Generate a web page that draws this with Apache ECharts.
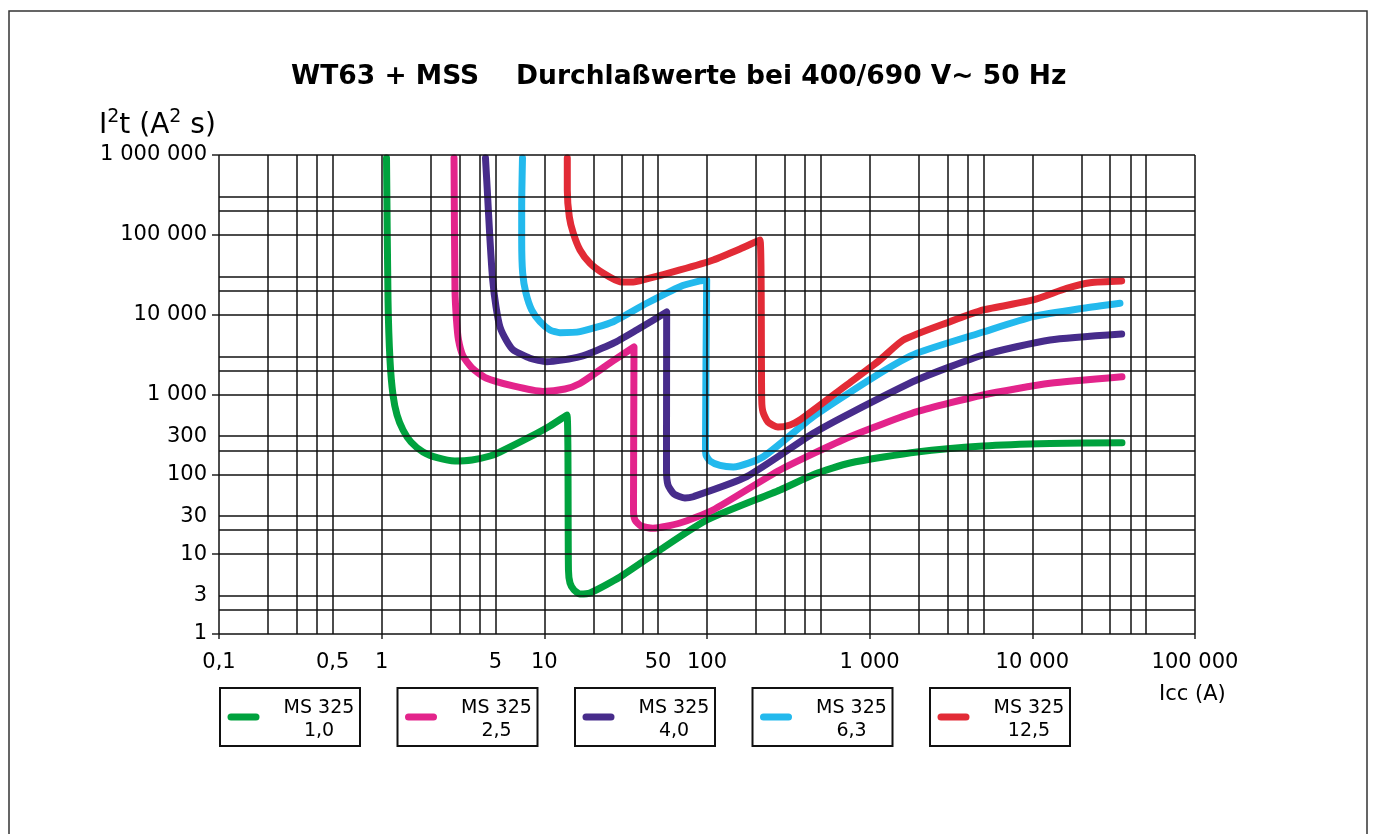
<!DOCTYPE html>
<html>
<head>
<meta charset="utf-8">
<script src="https://cdn.jsdelivr.net/npm/echarts@6/dist/echarts.min.js"></script>
<style>
  html, body { margin: 0; padding: 0; background: #fff; }
  #chart { width: 1375px; height: 834px; }
</style>
</head>
<body>
<div id="chart"></div>
<script>
// I²t let-through curves, [Icc (A), I²t (A² s)]
const ms10 = [[1.071, 918000], [1.094, 15277], [1.125, 2706], [1.174, 986], [1.243, 554], [1.353, 359.4], [1.514, 254.2], [1.795, 190.5], [2.22, 160.2], [2.823, 147], [3.592, 151.2], [4.634, 169.7], [5.339, 190.5], [8.162, 293.7], [10.83, 403.3], [13.78, 554],
  [14.07, 6.335], [14.38, 4.354], [15.22, 3.558], [16.56, 3.171], [19.09, 3.263], [29.19, 5.176], [51.4, 11.28], [100, 26.8], [281, 63.67], [461, 101], [756.8, 138.7], [1954, 190.5], [4972, 226.5], [12840, 243.4], [35570, 249.1]];
const ms25 = [[2.785, 918000], [2.823, 20385], [2.884, 8581], [2.967, 4819], [3.162, 3037], [3.592, 2149], [4.379, 1610], [6.416, 1279], [9.812, 1091], [13.4, 1173], [16.56, 1374], [21.99, 2028], [26.43, 2630], [35.58, 3938],
  [35.33, 35.76], [36.08, 26.8], [39.29, 22.54], [46.55, 21.1], [68.23, 24.58], [108.8, 35.76], [281, 113.4], [756.8, 296.2], [1954, 609.3], [4972, 986], [12840, 1382], [35570, 1672]];
const ms40 = [[4.347, 918000], [4.459, 364700], [4.634, 86240], [4.815, 27200], [5.045, 12590], [5.339, 7013], [5.87, 4681], [6.444, 3612], [8.162, 2843], [10.34, 2577], [16.56, 2977], [26.54, 4381], [36.96, 6430], [56.5, 10806],
  [56.36, 113.4], [57.57, 73.53], [62.67, 56.74], [73.21, 50.54], [82.37, 52.47], [175.4, 93.43], [450.2, 326.7], [756.8, 581.8], [1946, 1520], [4994, 3126], [12840, 4819], [35420, 5729]];
const ms63 = [[7.34, 918000], [7.258, 225300], [7.258, 86240], [7.361, 33000], [7.713, 18530], [8.36, 11450], [9.403, 8170], [10.83, 6430], [12.48, 5948], [16.56, 6122], [26.54, 8170], [42.59, 13890], [68.23, 22420], [90.57, 26430], [99.56, 27200],
  [97.89, 233.2], [98.58, 174.7], [104.3, 147], [120.2, 129.1], [145.1, 123.6], [221.8, 166.4], [450.2, 527.6], [1157, 1845], [1946, 3283], [4994, 6069], [10135, 9438], [20570, 12030], [34580, 13890]];
const ms125 = [[13.84, 918000], [13.84, 364700], [14.24, 168900], [15.07, 104600], [16.56, 64620], [19.09, 44040], [23.04, 33000], [29.19, 25900], [35.23, 25670], [42.59, 28000], [68.23, 36290], [109.3, 48420], [159.5, 66510], [211.7, 86240],
  [216.9, 853.7], [220.9, 603.9], [237.1, 452.6], [273.2, 391.8], [323.7, 415.1], [372.9, 479.6], [722.3, 1316], [1157, 2706], [1609, 4819], [3118, 8170], [4994, 11450], [10135, 15277], [16260, 21410], [22620, 25160], [35420, 26430]];

const curveNames = ['1,0', '2,5', '4,0', '6,3', '12,5'];
const curveData = [ms10, ms25, ms40, ms63, ms125];
const curveColors = ['#00a23e', '#e3248b', '#472c8b', '#23b9ed', '#e22b36'];

// axis labels / ticks
const xLabelValues = [0.1, 0.5, 1, 5, 10, 50, 100, 1000, 10000, 100000];
const xTickValues = [0.1, 1, 10, 100, 1000, 10000, 100000];
const yLabelValues = [1, 3, 10, 30, 100, 300, 1000, 10000, 100000, 1000000];
const yTickValues = [1, 10, 100, 1000, 10000, 100000, 1000000];

// grid lines: per decade
const xDecades = [0.1, 1, 10, 100, 1000, 10000];
const xSteps = [1, 2, 3, 4, 5];
const yDecades = [1, 10, 100, 1000, 10000, 100000];
const ySteps = [1, 2, 3];

const FONT = 'DejaVu Sans';

const fmt = (v) => {
  if (v < 1) return String(+v.toPrecision(6)).replace('.', ',');
  return String(Math.round(v)).replace(/\B(?=(\d{3})+(?!\d))/g, ' ');
};

const gridLines = [];
xDecades.forEach((d) => xSteps.forEach((s) => gridLines.push({ xAxis: +(d * s).toPrecision(6) })));
gridLines.push({ xAxis: 100000 });
yDecades.forEach((d) => ySteps.forEach((s) => gridLines.push({ yAxis: d * s })));
gridLines.push({ yAxis: 1000000 });

const chart = echarts.init(document.getElementById('chart'));

const legendBoxes = curveNames.map((name, i) => ({
  type: 'group',
  left: 219 + i * 177.5,
  top: 687,
  children: [
    { type: 'rect', shape: { x: 0, y: 0, width: 140, height: 58 }, style: { fill: '#fff', stroke: '#111', lineWidth: 2 } },
    { type: 'line', shape: { x1: 11, y1: 29, x2: 36, y2: 29 }, style: { stroke: curveColors[i], lineWidth: 7, lineCap: 'round' } },
    { type: 'text', x: 99, y: 9, style: { text: 'MS 325\n' + name, fill: '#000', font: '19px "' + FONT + '"', align: 'center', lineHeight: 23 } },
  ],
}));

const option = {
  animation: false,
  backgroundColor: '#fff',
  title: {
    text: 'WT63 + MSS    Durchlaßwerte bei 400/690 V~ 50 Hz',
    left: 286,
    top: 59,
    textStyle: { fontFamily: FONT, fontSize: 26.5, fontWeight: 'bold', color: '#000' },
  },
  grid: { left: 219, top: 155, width: 976, height: 479 },
  xAxis: {
    type: 'log',
    logBase: 10,
    min: 0.1,
    max: 100000,
    axisLine: { show: false },
    splitLine: { show: false },
    axisTick: { show: true, customValues: xTickValues, length: 5, lineStyle: { color: '#222', width: 1.5 } },
    axisLabel: { customValues: xLabelValues, formatter: fmt, fontFamily: FONT, fontSize: 21, color: '#000', margin: 18 },
  },
  yAxis: {
    type: 'log',
    logBase: 10,
    min: 1,
    max: 1000000,
    axisLine: { show: false },
    splitLine: { show: false },
    axisTick: { show: true, customValues: yTickValues, length: 7, lineStyle: { color: '#222', width: 1.5 } },
    axisLabel: { customValues: yLabelValues, formatter: fmt, fontFamily: FONT, fontSize: 21, color: '#000', margin: 12 },
  },
  graphic: [
    { type: 'rect', shape: { x: 9, y: 11, width: 1358, height: 900 }, style: { fill: 'none', stroke: '#333', lineWidth: 1.5 }, z: -1 },
    {
      type: 'text', left: 99, top: 108,
      style: {
        text: 'I{sup|2}t (A{sup|2} s)',
        font: '28px "' + FONT + '"', fill: '#000',
        rich: { sup: { fontSize: 19, verticalAlign: 'top', padding: [0, 0, 16, 0], fontFamily: FONT } },
      },
    },
    { type: 'text', left: 1159, top: 684, style: { text: 'Icc (A)', font: '21px "' + FONT + '"', fill: '#000' } },
    ...legendBoxes,
  ],
  series: [
    {
      type: 'line',
      data: [[0.1, 1]],
      symbol: 'none',
      lineStyle: { opacity: 0 },
      silent: true,
      z: 1,
      markLine: {
        silent: true,
        symbol: 'none',
        label: { show: false },
        lineStyle: { color: '#111', width: 1.5, type: 'solid' },
        data: gridLines,
      },
    },
    ...curveData.map((data, i) => ({
      name: 'MS 325 ' + curveNames[i],
      type: 'line',
      data,
      showSymbol: false,
      symbol: 'none',
      smooth: 0.2,
      z: 3,
      lineStyle: { color: curveColors[i], width: 7, cap: 'round', join: 'round' },
    })),
  ],
};

chart.setOption(option);
</script>
</body>
</html>
